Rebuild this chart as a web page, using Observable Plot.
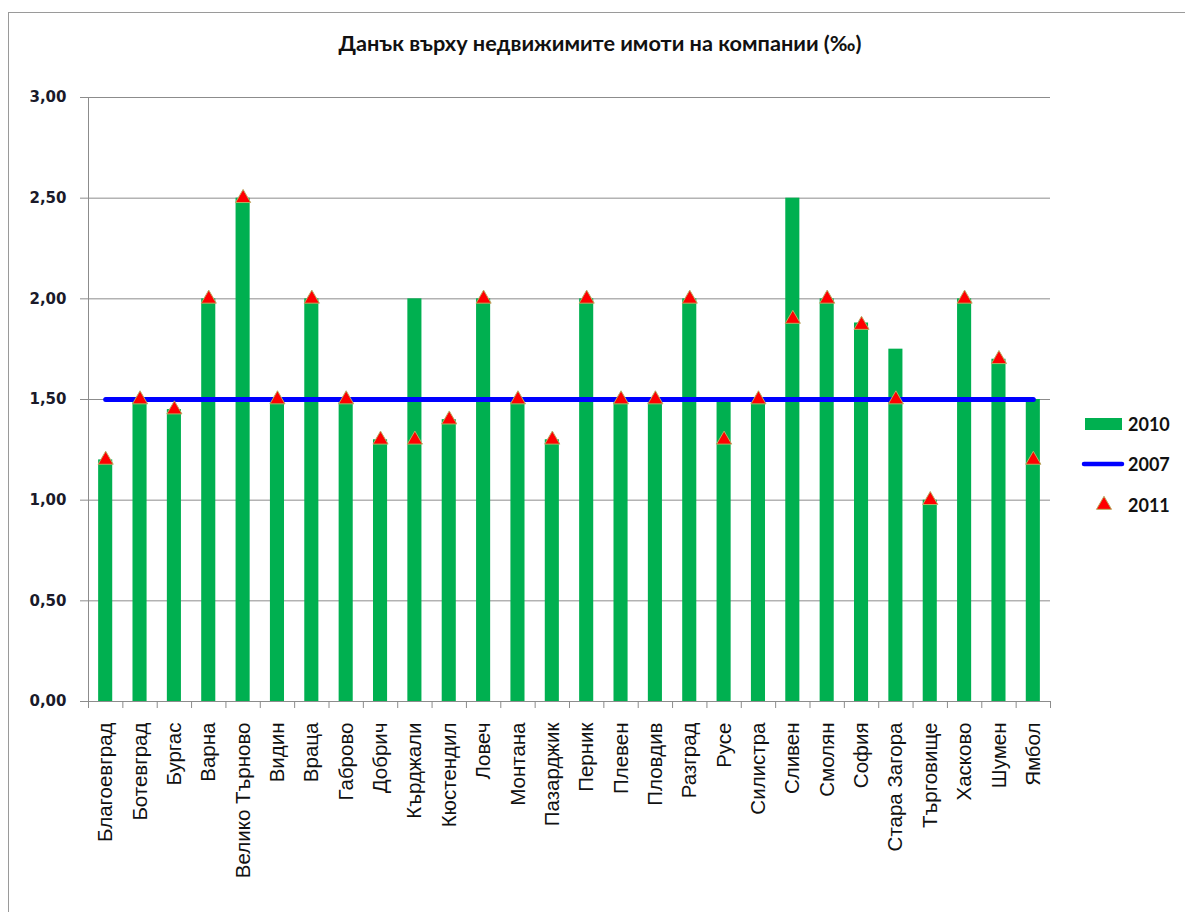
<!DOCTYPE html>
<html>
<head>
<meta charset="utf-8">
<script src="https://cdn.jsdelivr.net/npm/d3@7"></script>
<script src="https://cdn.jsdelivr.net/npm/@observablehq/plot@0.6"></script>
<style>
  html, body { margin: 0; padding: 0; background: #fff; overflow: hidden; }
  #wrap { position: relative; width: 1185px; height: 912px; overflow: hidden; }
  #frame { position: absolute; left: 8px; top: 12px; width: 1200px; height: 940px; border: 1.5px solid #9a9a9a; box-sizing: border-box; pointer-events: none; z-index: 3; }
  #title { position: absolute; left: 0; width: 1200px; top: 30px; text-align: center; font-family: Lato, "Open Sans", sans-serif; font-weight: bold; font-size: 21.7px; color: #111; z-index: 2; }
  #chart { position: absolute; left: 0; top: 0; z-index: 1; }
  .leg { position: absolute; left: 1080px; font-family: Lato, "Open Sans", sans-serif; font-weight: bold; font-size: 18px; color: #111; z-index: 2; }
  .leg svg { position: absolute; left: 0; }
  .leg span { position: absolute; left: 48px; top: -11px; white-space: nowrap; }
</style>
</head>
<body>
<div id="wrap">
  <div id="title">Данък върху недвижимите имоти на компании (‰)</div>
  <div id="chart"></div>
  <div id="legend"></div>
  <div id="frame"></div>
</div>
<script>
const cities = ["Благоевград","Ботевград","Бургас","Варна","Велико Търново","Видин","Враца","Габрово","Добрич","Кърджали","Кюстендил","Ловеч","Монтана","Пазарджик","Перник","Плевен","Пловдив","Разград","Русе","Силистра","Сливен","Смолян","София","Стара Загора","Търговище","Хасково","Шумен","Ямбол"];
const v2010 = [1.2,1.5,1.45,2.0,2.5,1.5,2.0,1.5,1.3,2.0,1.4,2.0,1.5,1.3,2.0,1.5,1.5,2.0,1.5,1.5,2.5,2.0,1.88,1.75,1.0,2.0,1.7,1.5];
const v2007 = [1.5,1.5,1.5,1.5,1.5,1.5,1.5,1.5,1.5,1.5,1.5,1.5,1.5,1.5,1.5,1.5,1.5,1.5,1.5,1.5,1.5,1.5,1.5,1.5,1.5,1.5,1.5,1.5];
const v2011 = [1.2,1.5,1.45,2.0,2.5,1.5,2.0,1.5,1.3,1.3,1.4,2.0,1.5,1.3,2.0,1.5,1.5,2.0,1.3,1.5,1.9,2.0,1.87,1.5,1.0,2.0,1.7,1.2];
const yTicks = [0,0.5,1,1.5,2,2.5,3];
const seriesNames = ["2010","2007","2011"];

const W = 1185, H = 912;
const mL = 88, mR = 135, mT = 97, mB = 211;
const half = (W - mL - mR) / cities.length / 2;
const tickLenData = 7 / ((H - mT - mB) / 3);
const grid = "#8c8c8c";
const fmt = d => d.toFixed(2).replace(".", ",");

const chart = Plot.plot({
  width: W, height: H,
  marginLeft: mL, marginRight: mR, marginTop: mT, marginBottom: mB,
  style: {background: "transparent", fontFamily: "'Liberation Sans', Arial, sans-serif", color: "#111"},
  x: {domain: cities, paddingInner: 0.59, paddingOuter: 0.295, round: false, label: null},
  y: {domain: [0, 3], label: null},
  marks: [
    Plot.ruleY(yTicks, {stroke: grid, strokeWidth: 1}),
    Plot.ruleX([cities[0]], {x: d => d, dx: -half, stroke: grid}),
    Plot.ruleX(cities, {x: d => d, dx: -half, y1: 0, y2: -tickLenData, stroke: grid}),
    Plot.ruleX([cities[cities.length - 1]], {x: d => d, dx: half, y1: 0, y2: -tickLenData, stroke: grid}),
    Plot.axisY({ticks: yTicks, tickFormat: fmt, tickSize: 8, tickPadding: 14, stroke: grid, fill: "#1a1a2a",
      fontWeight: "bold", fontSize: 15, fontFamily: "'DejaVu Sans', Verdana, sans-serif"}),
    Plot.axisX({tickSize: 0, tickPadding: 21, tickRotate: -90, fontSize: 20.5, fill: "#111",
      fontFamily: "'Liberation Sans', Arial, sans-serif"}),
    Plot.barY(cities, {x: cities, y: v2010, fill: "#00B050"}),
    Plot.lineY(cities, {x: cities, y: v2007, stroke: "#0000FF", strokeWidth: 5, strokeLinecap: "round"}),
    Plot.dot(cities, {x: cities, y: v2011, symbol: "triangle", r: 5.6, fill: "#FF0000", stroke: "#B9AC62", strokeWidth: 1})
  ]
});
document.getElementById("chart").appendChild(chart);

// Legend
const legend = document.getElementById("legend");
const legY = [424, 464, 505];
const svgNS = "http://www.w3.org/2000/svg";
seriesNames.forEach((name, i) => {
  const d = document.createElement("div");
  d.className = "leg";
  d.style.top = legY[i] + "px";
  const s = document.createElementNS(svgNS, "svg");
  s.setAttribute("width", "46");
  s.setAttribute("height", "20");
  s.style.top = "-10px";
  let el;
  if (i === 0) {
    el = document.createElementNS(svgNS, "rect");
    el.setAttribute("x", "5"); el.setAttribute("y", "4");
    el.setAttribute("width", "37"); el.setAttribute("height", "12");
    el.setAttribute("fill", "#00B050");
  } else if (i === 1) {
    el = document.createElementNS(svgNS, "line");
    el.setAttribute("x1", "4"); el.setAttribute("x2", "42");
    el.setAttribute("y1", "10"); el.setAttribute("y2", "10");
    el.setAttribute("stroke", "#0000FF"); el.setAttribute("stroke-width", "4.5");
    el.setAttribute("stroke-linecap", "round");
  } else {
    el = document.createElementNS(svgNS, "path");
    el.setAttribute("d", d3.symbol(d3.symbolTriangle, Math.PI * 5.6 * 5.6)());
    el.setAttribute("transform", "translate(24,10)");
    el.setAttribute("fill", "#FF0000");
    el.setAttribute("stroke", "#B9AC62");
  }
  s.appendChild(el);
  d.appendChild(s);
  const sp = document.createElement("span");
  sp.textContent = name;
  d.appendChild(sp);
  legend.appendChild(d);
});
</script>
</body>
</html>
